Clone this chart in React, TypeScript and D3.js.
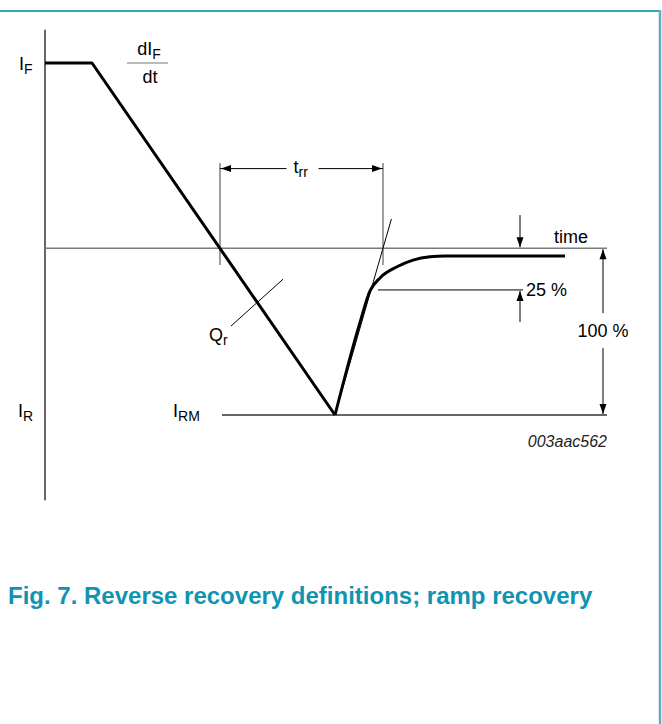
import * as d3 from "d3";

// waveform, time in arbitrary units, current in arbitrary units
const rampT = [0, 4.7, 29.0];
const rampI = [10, 10, -9];
const recoveryT = [29.0, 31.5, 32.5, 33.5, 35.2, 36.8, 38.5, 40.0, 52.0];
const recoveryI = [-9, -4.0, -2.3, -1.6, -1.0, -0.64, -0.46, -0.42, -0.42];

// construction lines
const axisI = [-13.6, 11.8];
const zeroT = [0, 56.2];
const irmT = [17.7, 56.2];
const trrT = [17.5, 33.8];
const trrSpan = [-0.9, 4.6];
const trrLevel = 4.3;
const tangentT = [29.0, 34.64];
const tangentI = [-9, 1.58];
const pct25T = [33.3, 47.8];
const pct25Level = -2.25;
const pct25ArrowT = 47.5;
const pct25ArrowI = [1.79, -3.98];
const pct100T = 55.8;
const pct100ArrowI = [-3.5, -5.39];
const qrLeaderT = [18.6, 23.8];
const qrLeaderI = [-4.2, -1.67];

const W = 662;
const H = 724;
const FONT = "'Liberation Sans', Arial, Helvetica, sans-serif";
const TEAL = "#1094b1";

const x = d3.scaleLinear().domain([0, 56.2]).range([45, 607]);
const y = d3.scaleLinear().domain([-9, 10]).range([415, 63]);

function arrowHead(px: number, py: number, dir: "up" | "down" | "left" | "right") {
  const L = 10;
  const h = 3.5;
  let pts: [number, number][] = [];
  if (dir === "down") pts = [[px, py], [px - h, py - L], [px + h, py - L]];
  if (dir === "up") pts = [[px, py], [px - h, py + L], [px + h, py + L]];
  if (dir === "left") pts = [[px, py], [px + L, py - h], [px + L, py + h]];
  if (dir === "right") pts = [[px, py], [px - L, py - h], [px - L, py + h]];
  return "M" + pts.map((p) => p.join(",")).join("L") + "Z";
}

export default function App() {
  const ramp = d3
    .line<number>()
    .x((_, i) => x(rampT[i]))
    .y((d) => y(d))(rampI);
  const recovery = d3
    .line<number>()
    .x((_, i) => x(recoveryT[i]))
    .y((d) => y(d))
    .curve(d3.curveMonotoneX)(recoveryI);

  const y0 = y(0);
  const trrY = y(trrLevel);
  const trrMid = (x(trrT[0]) + x(trrT[1])) / 2;

  return (
    <svg
      width={W}
      height={H}
      style={{ position: "absolute", left: 0, top: 0, background: "#fff" }}
      fontFamily={FONT}
    >
      {/* frame */}
      <line x1={0} x2={661} y1={11} y2={11} stroke="#3aa2ba" strokeWidth={2} />
      <line x1={660} x2={660} y1={10} y2={H} stroke="#5aaec2" strokeWidth={2.5} />

      {/* axes */}
      <line x1={x(0)} x2={x(0)} y1={y(axisI[1])} y2={y(axisI[0])} stroke="#333" strokeWidth={1.5} />
      <line x1={x(zeroT[0])} x2={x(zeroT[1])} y1={y0} y2={y0} stroke="#7a7a7a" strokeWidth={1.6} />
      <line x1={x(irmT[0])} x2={x(irmT[1])} y1={y(-9)} y2={y(-9)} stroke="#333" strokeWidth={1.4} />

      {/* t_rr markers */}
      {trrT.map((t, i) => (
        <line key={i} x1={x(t)} x2={x(t)} y1={y(trrSpan[1])} y2={y(trrSpan[0])} stroke="#777" strokeWidth={1.4} />
      ))}
      <line x1={x(trrT[0])} x2={trrMid - 15} y1={trrY} y2={trrY} stroke="#000" strokeWidth={1} />
      <line x1={trrMid + 17} x2={x(trrT[1])} y1={trrY} y2={trrY} stroke="#000" strokeWidth={1} />
      <path d={arrowHead(x(trrT[0]) + 1, trrY, "left")} fill="#000" />
      <path d={arrowHead(x(trrT[1]) - 1, trrY, "right")} fill="#000" />
      <text x={trrMid - 8} y={trrY + 4} fontSize={18}>
        t<tspan fontSize={14} dy={4}>rr</tspan>
      </text>

      {/* tangent */}
      <line
        x1={x(tangentT[0])}
        x2={x(tangentT[1])}
        y1={y(tangentI[0])}
        y2={y(tangentI[1])}
        stroke="#000"
        strokeWidth={1}
      />

      {/* waveform */}
      <path d={ramp ?? ""} fill="none" stroke="#000" strokeWidth={3} strokeLinejoin="round" />
      <path d={recovery ?? ""} fill="none" stroke="#000" strokeWidth={3} />

      {/* 25 % */}
      <line x1={x(pct25T[0])} x2={x(pct25T[1])} y1={y(pct25Level)} y2={y(pct25Level)} stroke="#000" strokeWidth={1} />
      <line x1={x(pct25ArrowT)} x2={x(pct25ArrowT)} y1={y(pct25ArrowI[0])} y2={y0 - 1} stroke="#000" strokeWidth={1} />
      <path d={arrowHead(x(pct25ArrowT), y0 - 1, "down")} fill="#000" />
      <line x1={x(pct25ArrowT)} x2={x(pct25ArrowT)} y1={y(pct25ArrowI[1])} y2={y(pct25Level) + 1} stroke="#000" strokeWidth={1} />
      <path d={arrowHead(x(pct25ArrowT), y(pct25Level) + 1, "up")} fill="#000" />
      <text x={x(pct25T[1]) + 3} y={y(pct25Level) + 6} fontSize={18}>25 %</text>

      {/* 100 % */}
      <line x1={x(pct100T)} x2={x(pct100T)} y1={y(pct100ArrowI[0])} y2={y0 + 1} stroke="#000" strokeWidth={1} />
      <path d={arrowHead(x(pct100T), y0 + 1, "up")} fill="#000" />
      <line x1={x(pct100T)} x2={x(pct100T)} y1={y(pct100ArrowI[1])} y2={y(-9) - 1} stroke="#000" strokeWidth={1} />
      <path d={arrowHead(x(pct100T), y(-9) - 1, "down")} fill="#000" />
      <text x={x(pct100T)} y={y(pct100ArrowI[0]) + 24} fontSize={18} textAnchor="middle">100 %</text>

      {/* Q_r */}
      <line x1={x(qrLeaderT[0])} x2={x(qrLeaderT[1])} y1={y(qrLeaderI[0])} y2={y(qrLeaderI[1])} stroke="#000" strokeWidth={1} />
      <text x={209} y={y(qrLeaderI[0]) + 15} fontSize={18}>
        Q<tspan fontSize={14} dy={4}>r</tspan>
      </text>

      {/* labels */}
      <text x={19} y={y(10) + 7} fontSize={18}>
        I<tspan fontSize={14} dy={4}>F</tspan>
      </text>
      <text x={18} y={y(-9) + 2} fontSize={18}>
        I<tspan fontSize={14} dy={4}>R</tspan>
      </text>
      <text x={173} y={y(-9) + 2} fontSize={18}>
        I<tspan fontSize={14} dy={4}>RM</tspan>
      </text>
      <text x={x(4.7) + 57} y={y(10) - 8} fontSize={18} textAnchor="middle">
        dI<tspan fontSize={14} dy={4}>F</tspan>
      </text>
      <line x1={x(4.7) + 35} x2={x(4.7) + 76} y1={y(10)} y2={y(10)} stroke="#777" strokeWidth={1.2} />
      <text x={x(4.7) + 58} y={y(10) + 20} fontSize={18} textAnchor="middle">dt</text>
      <text x={x(50.9)} y={y0 - 5} fontSize={18}>time</text>
      <text x={x(56.2)} y={y(-9) + 32} fontSize={16} fontStyle="italic" textAnchor="end" fill="#222">
        003aac562
      </text>

      {/* caption */}
      <text x={8} y={604} fontSize={24} fontWeight="bold" fill={TEAL}>
        Fig. 7. Reverse recovery definitions; ramp recovery
      </text>
    </svg>
  );
}
